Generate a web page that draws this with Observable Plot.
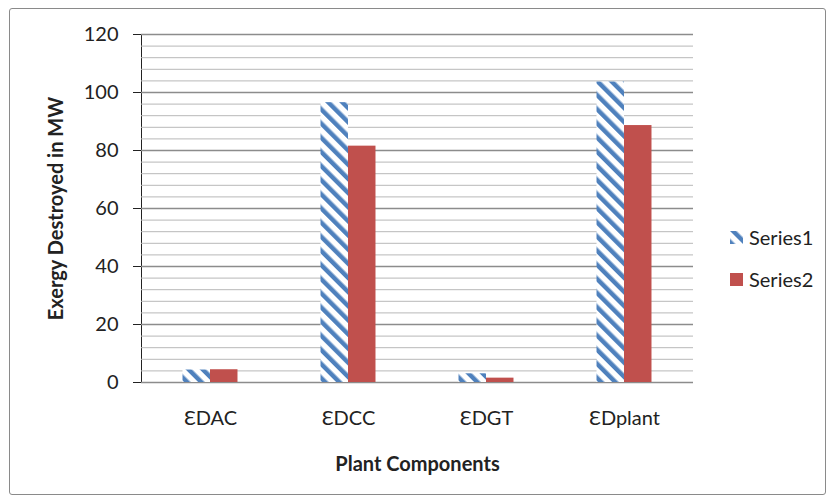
<!DOCTYPE html>
<html><head><meta charset="utf-8">
<script src="https://cdn.jsdelivr.net/npm/d3@7"></script>
<script src="https://cdn.jsdelivr.net/npm/@observablehq/plot@0.6"></script>
<style>
body{margin:0;background:#fff;font-family:Lato,"Open Sans",sans-serif;}
#wrap{position:relative;width:834px;height:500px;overflow:hidden;}
#frame{position:absolute;left:9px;top:8px;width:817px;height:487px;border:1.5px solid #8a8a8a;border-radius:3px;box-sizing:border-box;pointer-events:none}
#chart{position:absolute;left:0;top:0;}
#legend{position:absolute;left:730px;top:225px;font-size:20px;color:#222;line-height:24px}
#legend .row{display:flex;align-items:center;height:24px;margin-bottom:18px}
#legend svg{margin-right:6px}
</style></head><body>
<div id="wrap"><div id="chart"></div><div id="frame"></div><div id="legend"></div></div>
<script>
const categories = ["ƐDAC", "ƐDCC", "ƐDGT", "ƐDplant"];
const seriesNames = ["Series1", "Series2"];
const series1 = [4.3, 96.5, 3.0, 103.6];
const series2 = [4.4, 81.5, 1.5, 88.6];
const yTicks = [0, 20, 40, 60, 80, 100, 120];
const minorTicks = [4, 8, 12, 16, 24, 28, 32, 36, 44, 48, 52, 56, 64, 68, 72, 76, 84, 88, 92, 96, 104, 108, 112, 116];
const seriesColors = ["url(#hatch)", "#C0504D"];
const xLabel = "Plant Components";
const yLabel = "Exergy Destroyed in MW";

const rows = categories.flatMap((c, i) => [
  {cat: c, series: seriesNames[0], value: series1[i]},
  {cat: c, series: seriesNames[1], value: series2[i]}
]);

const chart = Plot.plot({
  width: 834, height: 500,
  marginLeft: 141, marginRight: 141, marginTop: 34, marginBottom: 118,
  style: {fontFamily: "Lato, 'Open Sans', sans-serif", fontSize: "20px", color: "#222", background: "transparent"},
  fx: {domain: categories, padding: 0, label: xLabel, labelAnchor: "center", labelOffset: 88, tickSize: 0, tickPadding: 28, axis: "bottom"},
  x: {domain: seriesNames, axis: null, paddingInner: 0, paddingOuter: 1.51, round: false},
  y: {domain: [0, 120], ticks: yTicks, label: yLabel, labelAnchor: "center", labelArrow: "none", labelOffset: 93, tickSize: 8, tickPadding: 15, line: true},
  color: {domain: seriesNames, range: seriesColors},
  marks: [
    Plot.ruleY(minorTicks, {stroke: "#b8b8b8", strokeWidth: 1}),
    Plot.ruleY(yTicks, {stroke: "#8c8c8c", strokeWidth: 1.5}),
    Plot.barY(rows, {fx: "cat", x: "series", y: "value", fill: "series"})
  ]
});

const svgEl = chart.tagName.toLowerCase() === "svg" ? chart : chart.querySelector("svg");
const ns = "http://www.w3.org/2000/svg";
function makePattern(id) {
  const defs = document.createElementNS(ns, "defs");
  defs.innerHTML = `<pattern id="${id}" patternUnits="userSpaceOnUse" width="10" height="10" patternTransform="rotate(-45)">
    <rect width="10" height="10" fill="#ffffff"/><rect x="0" y="0" width="4.5" height="10" fill="#4F81BD"/></pattern>`;
  return defs;
}
svgEl.insertBefore(makePattern("hatch"), svgEl.firstChild);
d3.select(svgEl).selectAll("text").filter(function() {
  return this.textContent === xLabel || this.textContent === yLabel;
}).attr("font-weight", "bold");
d3.select(svgEl).selectAll("[aria-label='y-axis tick'], [aria-label='y-axis line'], [aria-label='frame']").attr("stroke", "#8c8c8c");
document.getElementById("chart").appendChild(chart);

const legend = d3.select("#legend");
seriesNames.forEach((s, i) => {
  const row = legend.append("div").attr("class", "row");
  const sw = row.append("svg").attr("width", 13).attr("height", 13);
  if (i === 0) sw.node().appendChild(makePattern("hatchLegend"));
  sw.append("rect").attr("width", 13).attr("height", 13)
    .attr("fill", i === 0 ? "url(#hatchLegend)" : seriesColors[i]);
  row.append("span").text(s);
});
</script>
</body></html>
